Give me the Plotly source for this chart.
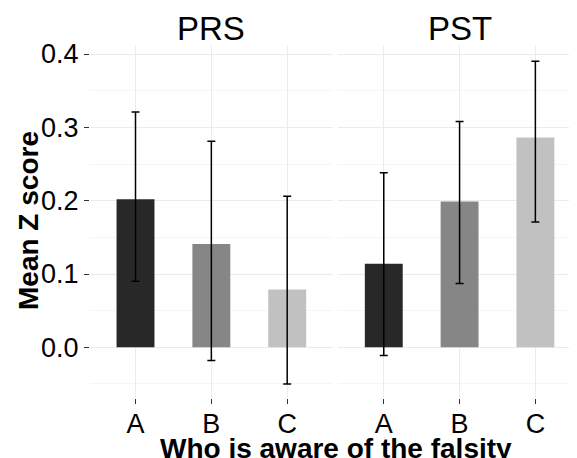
import plotly.graph_objects as go

categories = ["A", "B", "C"]
panels = ["PRS", "PST"]
prs_mean = [0.202, 0.141, 0.079]
prs_upper = [0.321, 0.281, 0.206]
prs_lower = [0.090, -0.018, -0.050]
pst_mean = [0.114, 0.199, 0.286]
pst_upper = [0.238, 0.308, 0.390]
pst_lower = [-0.011, 0.087, 0.171]
bar_colors = ["#282828", "#868686", "#c1c1c1"]
y_ticks = [0.0, 0.1, 0.2, 0.3, 0.4]

# page body has an 8px default margin; lay out in page pixels and convert
OFF = 8
W, H = 577 - OFF, 458 - OFF
FONT = "Liberation Sans, Arial, sans-serif"


def px(x):
    return (x - OFF) / W


def py(y):
    return 1 - (y - OFF) / H


fig = go.Figure()
for i, (m, up, lo) in enumerate([(prs_mean, prs_upper, prs_lower), (pst_mean, pst_upper, pst_lower)]):
    sfx = "" if i == 0 else str(i + 1)
    fig.add_trace(go.Bar(
        x=categories, y=m,
        marker=dict(color=bar_colors, line=dict(width=0)),
        error_y=dict(type="data", symmetric=False,
                     array=[u - v for u, v in zip(up, m)],
                     arrayminus=[v - l for v, l in zip(m, lo)],
                     color="black", thickness=1.5, width=4),
        xaxis="x" + sfx, yaxis="y" + sfx, showlegend=False,
    ))

ydom = [py(398), py(45)]
yrange = [-0.0691, 0.4123]
common_x = dict(showgrid=True, gridcolor="#ebebeb", gridwidth=1, zeroline=False,
                ticks="outside", ticklen=5, tickcolor="#333333", tickwidth=1,
                tickfont=dict(family=FONT, size=27, color="black"), ticklabelstandoff=-3,
                showline=False, type="category", automargin=False)
common_y = dict(range=yrange, domain=ydom, showgrid=True, gridcolor="#ebebeb", gridwidth=1,
                zeroline=False, tickvals=y_ticks, automargin=False,
                minor=dict(dtick=0.05, tick0=0, showgrid=True, gridcolor="#f5f5f5", gridwidth=1),
                showline=False)

fig.update_layout(
    width=W, height=H,
    margin=dict(l=0, r=0, t=0, b=0, pad=0),
    paper_bgcolor="white", plot_bgcolor="white",
    bargap=0.5,
    xaxis=dict(domain=[px(90), px(332.7)], range=[-0.6, 2.6], anchor="y", **common_x),
    xaxis2=dict(domain=[px(338.3), 1.0], range=[-0.6, 2.549], anchor="y2", **common_x),
    yaxis=dict(anchor="x", ticks="outside", ticklen=5, tickcolor="#333333", tickwidth=1,
               tickformat=".1f", tickfont=dict(family=FONT, size=27, color="black"), **common_y),
    yaxis2=dict(anchor="x2", showticklabels=False, ticks="", **common_y),
    font=dict(family=FONT),
)

base = dict(xref="paper", yref="paper", showarrow=False, xanchor="center", yanchor="middle")
ann = [
    dict(text="PRS", x=px((90 + 332.7) / 2), y=py(29),
         font=dict(family=FONT, size=33, color="black"), **base),
    dict(text="PST", x=px((338.3 + 581) / 2), y=py(29),
         font=dict(family=FONT, size=33, color="black"), **base),
    dict(text="<b>Who is aware of the falsity</b>", x=px(336), y=py(448),
         font=dict(family=FONT, size=28, color="black"), **base),
    dict(text="<b>Mean Z score</b>", x=px(28), y=py(221), textangle=-90,
         font=dict(family=FONT, size=28, color="black"), **base),
]
fig.update_layout(annotations=ann)

fig.write_html("out.html")
